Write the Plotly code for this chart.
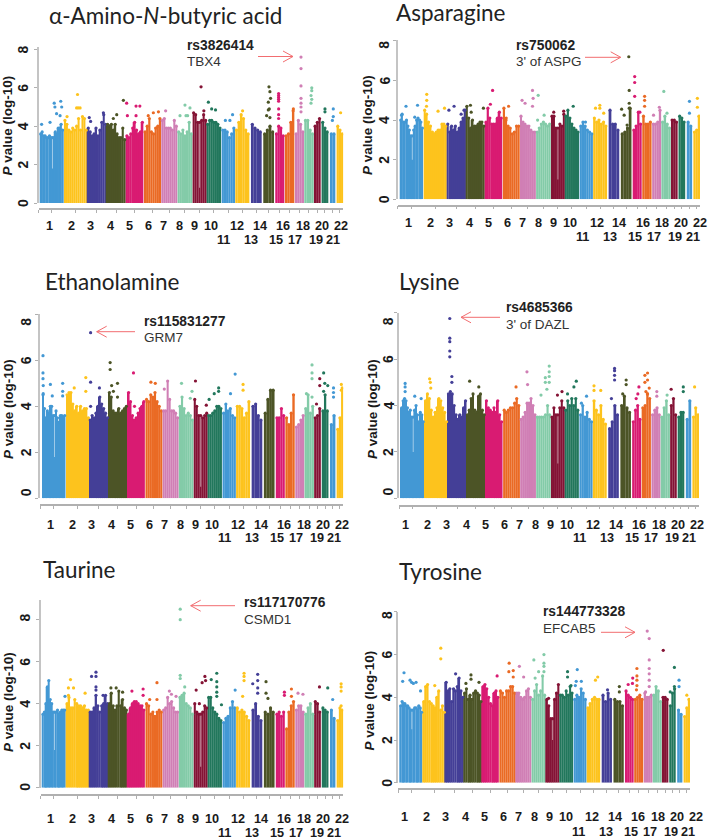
import plotly.graph_objects as go

W, H = 709, 840
chrom_start = [0,72,142,200,258,312,364,413,458,500,545,586,633,670,706,735,765,793,822,845,870,890]
chrom_end = [70,142,200,257,310,363,412,457,500,543,585,628,665,702,733,763,792,821,842,865,886,910]
chrom_colors = ["#4398d4","#fdc31d","#443f97","#4c5426","#d91b72","#ea6a24","#d07fb5","#83cba8","#841335","#22775c",
                "#4398d4","#fdc31d","#443f97","#4c5426","#d91b72","#ea6a24","#d07fb5","#83cba8","#841335","#22775c",
                "#4398d4","#fdc31d"]
row1_labels = ["1","2","3","4","5","6","7","8","9","10","12","14","16","18","20","22"]
row2_labels = ["11","13","15","17","19","21"]
label_offsets = {"1":147,"2":215,"3":272,"4":330,"5":388,"6":445,"7":490,"8":537,"9":583,"10":632,"11":670,
                 "12":712,"13":752,"14":780,"15":828,"16":850,"17":885,"18":908,"19":948,"20":965,"21":1000,"22":1022}

tops_amino = [[3.6,3.7,3.5,3.5,3.4,3.4,3.5,3.4,1.8,3.4,3.7,3.6,3.9,3.9,4.1,3.8],[4.3,4.1,3.8,3.7,3.9,3.8,4.0,4.4,3.8,4.5,4.4,3.8],
 [3.9,3.7,3.5,3.6,3.9,3.5,3.8,4.2,4.6,4.1],[4.1,4.0,4.1,3.8,4.1,3.6,3.4,3.4,3.9,3.3],[3.5,3.4,3.6,3.9,4.2,3.8,3.6,3.7,4.2],
 [3.7,4.0,4.4,3.7,3.6,3.9,4.0,4.4],[4.3,4.4,3.9,3.9,3.9,3.8,4.3,4.0],[3.7,3.6,3.8,3.5,3.7,4.2,3.6],[4.7,4.6,4.2,0.8,4.3,4.6,4.3],
 [4.1,4.3,4.3,4.2,4.2,4.1,3.9],[3.8,3.8,3.7,3.4,3.6,3.9],[3.8,4.2,4.6,4.4,3.8,3.6],[4.1,3.9,3.8,3.7],[3.6,3.8,4.0,3.7],
 [3.6,4.0,3.9,3.5],[3.5,3.6,4.2,4.8],[3.6,4.3,4.1,3.7],[4.3,4.3,3.8,3.6],[4.0,4.2,4.4],[4.2,3.9,3.7],[3.6,3.6],[4.0,3.8,3.6]]
peaks_amino = [(1,.07,4.1),(1,.43,4.2),(1,.61,5.2),(1,.64,5.0),(1,.89,5.3),(1,.93,5.0),(1,.71,4.65),(1,.86,4.55),(2,.58,5.65),(2,.54,4.95),(2,.69,4.95),(2,.61,4.95),(2,.13,4.5),
 (3,.1,4.45),(3,.17,4.25),(3,.83,4.7),(4,.53,4.6),(4,.35,4.4),(4,.88,5.35),(5,.04,5.2),(5,.08,4.55),(5,.58,5.05),(5,.8,5.05),(5,.58,4.55),
 (6,.55,4.7),(6,.85,4.75),(6,.25,4.55),(7,.27,4.8),(8,.5,5.1),(8,.16,4.55),(8,.84,4.95),(8,.68,4.55),(8,.57,4.55),(9,.6,6.05),(9,.8,4.8),
 (10,.12,5.25),(10,.35,4.9),(10,.62,4.85),(11,.82,4.6),(11,.28,4.3),(11,.62,4.3),(12,.52,4.8),(14,.53,6.05),(14,.62,5.8),(14,.68,5.45),(14,.47,4.85),(14,.56,4.9),(14,.31,4.55),(14,.62,4.45),(14,.47,5.25),
 (15,.37,5.7),(15,.37,5.6),(15,.37,5.5),(15,.37,5.4),(15,.37,5.3),(15,.37,4.9),(15,.37,4.6),(15,.37,4.4),(16,.9,4.9),
 (17,.67,7.6),(17,.67,7.0),(17,.67,6.1),(17,.67,5.45),(17,.67,5.2),(17,.67,5.0),(17,.67,4.75),(18,.8,6.0),(18,.8,5.85),(18,.72,5.6),(18,.72,5.2),(18,.8,5.4),(20,.5,4.9),(20,.5,4.75),(21,.62,4.9),(21,.62,4.5),(21,.45,4.3),(22,.6,4.7)]

tops_asparagine = [[4.0,4.3,3.9,3.9,4.0,3.7,3.5,3.2,2.0,3.5,3.7,4.0,4.1,4.0,3.9,3.6],[4.5,4.3,3.9,3.7,3.4,3.3,3.4,3.5,3.5,3.8,3.8,3.7],
 [3.8,3.4,3.7,3.5,3.7,3.4,3.6,3.9,4.1,4.5],[4.7,4.1,3.6,4.0,3.7,3.7,3.8,3.9,3.9,3.7],[3.9,4.6,4.1,3.8,3.8,3.8,4.1,4.4,4.1],
 [4.6,4.0,3.7,3.6,3.3,3.4,3.7,3.7],[4.2,3.9,3.8,3.7,3.7,3.5,3.4,3.4],[3.4,3.6,3.8,3.9,3.8,3.7,3.8],[4.2,4.2,3.6,1.0,3.8,3.7,4.3],
 [4.2,4.5,4.1,3.8,3.6,3.5,3.4],[3.7,3.9,3.7,3.5,3.4,3.3],[4.1,3.9,4.0,3.8,3.9,3.7],[4.5,3.8,3.8,3.5],[3.3,3.4,3.6,4.6],
 [3.5,3.7,4.4,3.8],[4.2,3.8,3.8,3.9],[3.8,3.8,3.9,4.5],[3.9,4.2,3.8,3.6],[4.0,4.0,3.9],[4.2,4.1,3.9],[3.9,3.7],[3.4,3.5,4.2]]
peaks_asparagine = [(1,.26,4.7),(1,.76,4.75),(1,.07,4.25),(1,.64,4.15),(2,.13,5.3),(2,.13,5.0),(2,.12,4.7),(2,.62,4.45),(2,.9,4.6),(3,.11,4.5),(3,.38,4.7),(3,.9,4.5),(3,.75,4.3),
 (4,.24,4.75),(4,.28,4.4),(4,.93,4.6),(5,.44,5.5),(5,.31,4.8),(6,.34,4.7),(6,.2,4.1),(7,.13,5.0),(7,.32,4.85),(7,.79,5.5),(7,.83,5.1),(7,.79,4.7),(8,.14,5.25),(8,.55,4.25),(8,.1,4.0),
 (9,.2,4.4),(9,.92,4.45),(10,.59,4.7),(11,.44,3.9),(12,.48,4.75),(12,.48,4.6),(12,.17,4.6),(12,.76,4.35),(14,.07,4.55),(14,.31,4.25),(14,.59,3.75),(14,.79,5.5),(14,.79,4.85),(14,.79,4.6),
 (14,.75,7.2),(15,.22,6.2),(15,.22,5.9),(15,.22,5.2),(15,.8,4.4),(16,.25,5.2),(16,.25,5.0),(16,.25,4.7),(17,.15,4.25),(17,.8,4.65),(18,.26,5.45),(18,.6,4.35),(21,.5,4.95),(21,.5,4.35),(22,.6,5.1),(22,.6,4.65)]

tops_ethanolamine = [[4.5,3.9,3.5,3.8,3.7,4.0,4.0,3.6,1.8,3.8,3.5,3.3,3.6,3.6,3.5,3.6],[4.5,4.6,4.6,4.1,3.8,4.0,3.7,4.0,3.8,3.9,3.9,3.5],
 [3.4,3.6,3.5,3.7,4.0,4.4,4.1,3.9,3.7,3.5],[4.6,4.4,3.8,3.7,3.7,3.9,3.7,3.8,3.9,4.0],[4.6,4.2,3.6,3.4,3.5,3.7,3.9,4.0,4.2],
 [4.3,4.2,4.5,4.4,4.6,4.2,4.0,3.8],[3.8,3.8,5.1,4.3,3.8,3.8,3.7,3.5],[4.0,4.4,3.9,3.6,3.7,3.6,3.4],[4.3,4.0,3.6,0.5,3.5,3.6,3.7],
 [3.6,3.6,3.7,3.8,4.0,4.0,3.9],[3.7,4.1,3.8,3.9,3.6,3.5],[4.0,4.0,3.9,3.5,3.7,4.2],[4.0,4.1,3.6,3.4],[3.7,4.3,4.7,4.7],
 [3.5,3.5,3.9,3.6],[3.5,3.2,3.7,4.5],[3.1,3.2,3.4,3.6],[3.9,4.5,3.7,4.0],[3.5,3.6,3.9],[3.8,4.5,3.8],[3.2,3.6],[3.0,3.5,4.8]]
peaks_ethanolamine = [(1,.03,6.2),(1,.03,5.45),(1,.03,5.2),(1,.04,4.9),(1,.04,4.55),(1,.35,4.95),(1,.43,4.45),(1,.88,5.0),(1,.88,4.45),(1,.88,4.65),(2,.35,4.8),(2,.85,5.25),(2,.85,4.65),
 (3,.07,7.2),(3,.07,5.05),(3,.07,4.0),(3,.53,4.8),(4,.09,5.9),(4,.09,5.6),(4,.48,5.0),(4,.17,4.9),(4,.26,4.65),(4,.48,4.4),(5,.34,5.45),(5,.4,4.0),(6,.32,5.05),(6,.58,5.0),
 (7,.1,4.75),(8,.18,5.0),(8,.9,4.65),(8,.78,4.35),(9,.12,5.1),(9,.9,4.05),(10,.1,4.3),(10,.46,4.55),(10,.77,4.8),(10,.77,4.65),(11,.6,4.55),(11,.95,5.4),(12,.5,4.95),(12,.5,4.7),
 (18,.8,5.8),(18,.8,5.45),(18,.8,5.2),(18,.2,4.55),(18,.8,4.4),(19,.84,5.2),(19,.84,4.9),(19,.35,4.1),(20,.28,5.45),(20,.9,4.9),(20,.45,5.0),(20,.28,4.65),(21,.65,4.8),(21,.65,4.4),(21,.65,4.6),(22,.7,4.95),(22,.7,4.7)]

tops_lysine = [[3.9,4.2,4.3,4.2,3.9,3.7,3.8,3.5,2.0,3.8,4.0,3.6,3.3,3.7,3.6,3.3],[4.2,4.5,4.3,3.8,3.5,3.7,3.9,4.3,4.2,3.9,3.7,3.3],
 [4.5,4.6,4.5,4.0,3.6,3.4,3.6,3.5,3.9,4.2],[3.6,3.8,4.3,4.5,3.8,3.7,4.4,4.5,3.8,3.6],[4.2,3.9,3.8,3.7,3.9,3.7,4.2,3.6,3.3],
 [3.8,3.7,3.8,3.9,3.9,4.1,4.3,4.0],[3.4,3.5,3.7,4.1,4.1,4.3,4.0,3.6],[3.5,3.5,3.5,3.5,3.6,4.0,3.6],[3.5,3.9,3.6,1.5,3.9,4.2,3.9],
 [3.8,4.2,4.0,4.3,4.0,4.3,3.8],[3.6,4.0,3.5,3.7,3.4,3.3],[4.2,3.8,3.6,4.0,3.4,3.2],[3.0,3.3,4.0,3.6],[4.0,4.4,3.9,3.7],
 [3.3,3.8,4.0,3.4],[3.9,4.0,4.5,4.3],[3.6,3.8,3.9,3.6],[3.5,3.9,4.2,3.6],[4.0,4.3,3.6],[3.5,3.7,3.7],[3.4,4.2],[3.5,3.9,3.6]]
peaks_lysine = [(1,.18,4.95),(1,.18,4.8),(1,.18,4.6),(1,.6,4.4),(1,.88,4.3),(2,.22,5.15),(2,.25,5.0),(2,.27,4.75),(3,.12,7.75),(3,.12,6.9),(3,.12,6.75),(3,.12,6.35),(3,.12,6.1),(3,.23,5.25),(3,.23,5.0),
 (4,.17,5.05),(4,.66,4.8),(6,.77,4.8),(7,.43,5.45),(7,.47,4.9),(8,.9,5.7),(8,.9,5.45),(8,.63,5.2),(8,.9,5.25),(8,.9,5.0),(8,.63,5.0),(8,.33,4.45),(8,.74,4.7),
 (9,.47,4.45),(9,.8,4.6),(10,.2,4.5),(10,.82,5.05),(10,.65,4.8),(11,.54,4.4),(11,.15,4.1),(12,.08,4.85),(12,.57,4.65),(12,.08,4.65),(13,.6,5.6),(13,.6,5.5),(13,.6,5.3),(13,.6,5.1),(13,.3,4.3),
 (14,.55,5.1),(14,.55,4.9),(14,.22,4.5),(15,.76,4.8),(15,.45,4.3),(15,.64,4.5),(16,.35,5.3),(16,.64,5.4),(16,.35,5.0),(16,.64,5.1),(16,.82,4.75),(16,.46,4.6),(16,.64,4.5),(17,.6,4.6),(17,.6,4.4),
 (18,.7,4.45),(19,.15,4.7),(20,.85,4.8),(20,.85,4.6),(22,.33,4.8)]

tops_taurine = [[3.5,3.6,4.0,4.8,5.1,4.2,4.0,3.6,1.8,3.6,3.7,3.5,3.6,3.7,3.7,3.7],[4.0,4.3,3.8,3.8,4.2,4.0,3.9,3.9,3.8,3.9,3.7,3.7],
 [3.6,3.6,3.8,4.4,3.9,3.6,3.9,4.0,4.4,4.0],[4.0,4.5,3.9,3.7,3.9,4.6,3.9,4.2,3.8,3.7],[3.5,3.8,4.0,4.1,4.1,4.0,3.9,3.9,3.7],
 [4.0,3.9,3.5,3.6,3.4,3.6,3.7,3.6],[3.7,3.8,4.3,4.0,4.1,3.8,3.6,3.6],[4.3,4.4,4.5,4.0,3.9,3.8,3.5],[4.0,3.6,3.5,1.0,3.6,3.9,3.8],
 [4.3,4.3,3.8,3.6,3.5,3.3,3.2],[3.1,3.3,3.4,3.8,4.1,3.8],[3.8,3.6,3.7,3.6,3.4,3.2],[3.7,4.0,3.4,3.2],[3.6,3.5,3.8,3.6],
 [3.5,3.6,3.4,3.6],[2.8,3.6,3.9,4.1],[3.7,3.9,3.9,3.6],[3.5,3.8,4.0,3.5],[4.1,4.0,3.6],[3.8,3.7,3.6],[3.7,3.3],[3.2,3.8,3.7]]
peaks_taurine = [(1,.98,4.35),(2,.19,5.15),(2,.1,4.75),(2,.32,4.75),(2,.1,4.4),(2,.82,4.5),(3,.12,5.3),(3,.35,5.5),(3,.35,5.3),(3,.35,4.8),(3,.35,4.65),(3,.72,4.4),
 (4,.13,4.75),(4,.41,4.75),(4,.75,4.55),(5,.25,4.6),(5,.9,4.7),(5,.9,4.4),(6,.68,5.0),(6,.25,4.2),(6,.68,4.2),(7,.42,4.6),(7,.55,4.45),(7,.84,4.35),
 (8,.09,8.5),(8,.09,8.0),(8,.09,5.35),(8,.09,5.2),(8,.4,4.8),(9,.17,4.65),(9,.6,5.0),(9,.8,5.3),(9,.85,5.1),(9,.4,4.0),
 (10,.25,5.15),(10,.64,5.45),(10,.64,5.05),(10,.64,4.8),(10,.64,4.55),(10,.64,4.35),(10,.97,3.95),(11,.95,4.65),(12,.57,5.45),(12,.57,5.3),(12,.57,5.1),(12,.47,4.35),
 (13,.57,5.4),(13,.57,5.1),(13,.1,4.95),(13,.57,4.75),(13,.57,4.5),(14,.2,5.05),(14,.2,4.5),(14,.38,4.25),(15,.96,4.55),(15,.96,4.4),(16,.65,4.7),(16,.65,4.35),
 (17,.3,4.5),(17,.85,4.45),(19,.8,4.8),(20,.9,4.75),(21,.5,4.2),(22,.67,4.95),(22,.67,4.8),(22,.67,4.6),(22,.67,3.9)]

tops_tyrosine = [[3.6,3.8,3.7,3.7,3.6,3.6,3.5,3.4,2.5,3.4,3.5,3.5,3.4,3.6,3.5,3.3],[3.8,4.5,4.6,3.8,3.7,3.6,3.5,4.0,4.3,3.4,3.6,3.3],
 [4.7,4.3,4.4,3.8,4.4,4.3,4.5,4.9,4.3,4.0],[4.2,4.4,3.9,4.1,3.9,4.2,4.3,4.2,4.1,3.8],[4.5,4.6,4.4,4.0,3.7,3.6,4.2,4.3,4.0],
 [4.3,4.2,4.0,4.3,4.3,4.5,4.5,4.2],[4.2,4.2,4.0,3.9,4.0,4.3,4.4,4.0],[3.9,4.3,4.6,4.1,4.3,5.0,4.1],[3.9,3.6,3.0,2.0,3.9,4.2,4.6],
 [4.1,4.1,4.0,4.3,4.1,4.5,4.2],[3.9,4.1,4.0,4.4,4.2,3.9],[3.5,3.7,3.9,4.0,3.9,3.9],[4.1,3.8,4.2,3.9],[3.9,3.8,3.8,3.6],
 [4.3,4.1,4.0,3.9],[3.9,4.0,4.1,3.9],[4.2,4.0,4.0,4.1],[4.1,4.5,4.3,3.8],[4.0,4.0,3.9],[3.6,4.2,4.4],[3.4,3.2],[3.1,3.5,3.9]]
peaks_tyrosine = [(1,.18,5.15),(1,.12,4.75),(1,.45,4.8),(1,.52,4.7),(1,.72,4.7),(1,.6,4.65),(1,.92,4.3),(2,.8,6.3),(2,.8,5.8),(2,.53,4.55),(3,.56,5.1),(4,.4,5.05),(4,.4,4.85),(4,.12,4.65),(4,.84,4.7),
 (5,.9,5.0),(6,.6,5.6),(6,.85,5.25),(6,.85,4.95),(6,.58,5.2),(7,.22,5.45),(7,.5,4.95),(8,.16,5.75),(8,.88,6.0),(8,.88,5.6),(8,.88,5.45),(8,.5,5.2),(8,.25,4.9),(8,.88,5.2),(9,.2,3.95),
 (10,.6,5.2),(10,.6,4.95),(10,.85,4.55),(11,.28,5.3),(11,.2,4.75),(11,.6,4.75),(11,.13,4.55),(12,.65,4.8),(12,.82,4.95),(13,.57,4.35),(14,.57,4.5),(14,.57,4.25),
 (15,.9,4.9),(15,.37,4.6),(15,.87,4.65),(16,.3,5.35),(16,.3,5.0),(16,.3,4.8),(16,.3,4.55),(16,.25,4.35),(17,.4,7.1),(17,.63,6.75),(17,.63,5.75),(17,.63,5.35),(17,.63,5.1),(17,.63,4.8),(17,.63,4.5),(17,.2,4.25),
 (19,.2,6.2),(20,.8,5.4),(20,.8,4.5),(20,.15,4.25),(21,.35,4.8),(21,.35,4.5),(22,.5,4.1)]

panels = [
 dict(title="α-Amino-<i>N</i>-butyric acid", tops=tops_amino, peaks=peaks_amino, rs="rs3826414", gene="TBX4",
      yax=38.7, left=40, right=343.3, xline=209, y0=203, unit=19.2, ymax=8.1, ylx=23, ttl=(47,15), ytl=(8,125.6),
      lab=dict(x=0, r1=226, r2=240), rsxy=(185,45.7,62), arrow=(258,293,56.5), zero=0, eight=8),
 dict(title="Asparagine", tops=tops_asparagine, peaks=peaks_asparagine, rs="rs750062", gene="3' of ASPG",
      yax=397.7, left=400, right=700, xline=205.7, y0=199.3, unit=19.8, ymax=8.05, ylx=384, ttl=(394,13), ytl=(367,125),
      lab=dict(x=359.3, r1=223.3, r2=237.3), rsxy=(514.3,45,61.7), arrow=(585,620.7,57.3), zero=0, eight=7.8),
 dict(title="Ethanolamine", tops=tops_ethanolamine, peaks=peaks_ethanolamine, rs="rs115831277", gene="GRM7",
      yax=40, left=42.3, right=343.3, xline=505, y0=498.3, unit=23, ymax=8, ylx=26, ttl=(42.7,282), ytl=(8,409),
      lab=dict(x=1, r1=525, r2=538.3), rsxy=(141.7,321.3,337.7), arrow=(135,96.7,331.7), zero=.26, eight=7.68),
 dict(title="Lysine", tops=tops_lysine, peaks=peaks_lysine, rs="rs4685366", gene="3' of DAZL",
      yax=399, left=401, right=699, xline=505.7, y0=498.3, unit=23.2, ymax=8, ylx=388, ttl=(396.7,282), ytl=(372,409),
      lab=dict(x=356, r1=525, r2=538.3), rsxy=(504,307.3,324.3), arrow=(500,461,317.3), zero=.29, eight=7.63),
 dict(title="Taurine", tops=tops_taurine, peaks=peaks_taurine, rs="rs117170776", gene="CSMD1",
      yax=40.7, left=42.3, right=343.3, xline=795, y0=787.7, unit=21, ymax=8.95, ylx=25, ttl=(41,569), ytl=(8,702),
      lab=dict(x=1, r1=819.3, r2=833.3), rsxy=(241.7,602.3,619), arrow=(235,190.7,605.7), zero=.05, eight=8.1),
 dict(title="Tyrosine", tops=tops_tyrosine, peaks=peaks_tyrosine, rs="rs144773328", gene="EFCAB5",
      yax=398.3, left=400, right=690, xline=789.3, y0=782.7, unit=21.35, ymax=8, ylx=387, ttl=(397,571), ytl=(370,700.6),
      lab=dict(x=355, r1=817.3, r2=831.7), rsxy=(541,611.7,628.3), arrow=(601,635,632.3), zero=0, eight=7.85),
]

fig = go.Figure()
annotations, shapes = [], []
px = lambda v: v / W
py = lambda v: 1 - v / H
AX = "#b0b0b0"
ARIAL = "Liberation Sans"

def note(x, y, text, size, color="#1a1a1a", angle=0, anchor="center", family=ARIAL):
    annotations.append(dict(x=px(x), y=py(y), xref="paper", yref="paper", text=text, showarrow=False, textangle=angle,
                            xanchor=anchor, yanchor="middle", font=dict(size=size, color=color, family=family)))

layout_axes = {}
for i, p in enumerate(panels):
    n = "" if i == 0 else str(i + 1)
    bx, by, bw, bc = [], [], [], []
    nx, nb, nh = [], [], []
    for c, heights in enumerate(p["tops"]):
        w = (chrom_end[c] - chrom_start[c]) / len(heights)
        for k, h in enumerate(heights):
            xc = chrom_start[c] + (k + .5) * w
            shown = h
            if h < 2.6:  # centromere notch: a hairline pale gap rather than a full low bin
                shown = heights[k - 1]
                nx.append(xc); nb.append(h); nh.append(shown + .25 - h)
            bx.append(xc); by.append(shown); bw.append(w * 1.03); bc.append(chrom_colors[c])
    fig.add_trace(go.Bar(x=bx, y=by, width=bw, marker=dict(color=bc, line=dict(width=0)),
                         xaxis="x" + n, yaxis="y" + n, hoverinfo="skip"))
    pk = p["peaks"]
    fig.add_trace(go.Scatter(x=bx + [chrom_start[c-1] + f * (chrom_end[c-1] - chrom_start[c-1]) for c, f, v in pk],
                             y=by + [v for c, f, v in pk], mode="markers",
                             marker=dict(size=3.2, color=bc + [chrom_colors[c-1] for c, f, v in pk], line=dict(width=0)),
                             xaxis="x" + n, yaxis="y" + n, hoverinfo="skip"))
    fig.add_trace(go.Bar(x=nx, y=nh, base=nb, width=[2.5] * len(nx), marker=dict(color="rgba(255,255,255,0.6)", line=dict(width=0)),
                         xaxis="x" + n, yaxis="y" + n, hoverinfo="skip"))
    s = (p["right"] - p["left"]) / 910
    r0 = (p["yax"] - p["left"]) / s
    centers = [(a + b) / 2 for a, b in zip(chrom_start, chrom_end)]
    layout_axes["xaxis" + n] = dict(domain=[px(p["yax"]), px(p["right"])], range=[r0, 910], anchor="free", position=py(p["xline"]),
                                    tickvals=[r0] + centers, ticks="outside", ticklen=3, tickwidth=1, tickcolor=AX,
                                    showticklabels=False, showgrid=False, zeroline=False, showline=True, linecolor=AX, linewidth=1.5)
    layout_axes["yaxis" + n] = dict(domain=[py(p["y0"]), py(p["y0"] - p["ymax"] * p["unit"])], range=[0, p["ymax"]], anchor="x" + n,
                                    tickvals=[0,2,4,6,8], ticks="outside", ticklen=3, tickwidth=1, tickcolor=AX,
                                    showticklabels=False, showgrid=False, zeroline=False, showline=True, linecolor="#c4c4c4", linewidth=1.5)
    # pasted text
    note(p["ttl"][0], p["ttl"][1], p["title"], 22.5, "#222222", anchor="left", family="Lato")
    note(p["ytl"][0], p["ytl"][1], "<b><i>P</i> value (log-10)</b>", 13.5, angle=-90)
    for v in [0, 2, 4, 6, 8]:
        pos = {0: p["zero"], 8: p["eight"]}.get(v, v)
        note(p["ylx"], p["y0"] - pos * p["unit"], f"<b>{v}</b>", 14, angle=-90)
    for lab in row1_labels:
        note(p["lab"]["x"] + label_offsets[lab] / 3, p["lab"]["r1"], f"<b>{lab}</b>", 12.7)
    for lab in row2_labels:
        note(p["lab"]["x"] + label_offsets[lab] / 3, p["lab"]["r2"], f"<b>{lab}</b>", 12.7)
    note(p["rsxy"][0], p["rsxy"][1], f"<b>{p['rs']}</b>", 13.8, "#222222", anchor="left")
    note(p["rsxy"][0], p["rsxy"][2], p["gene"], 13.5, "#333333", anchor="left")
    x0, x1, y = p["arrow"]
    d = 1 if x1 > x0 else -1
    X0, X1, Y = px(x0), px(x1), py(y)
    hx, hy = px(x1 - d * 10), 5.5 / H
    shapes.append(dict(type="path", xref="paper", yref="paper",
                       path=f"M {X0} {Y} L {X1} {Y} M {hx} {Y + hy} L {X1} {Y} L {hx} {Y - hy}",
                       line=dict(color="#f26d70", width=1)))

fig.update_layout(width=W, height=H, autosize=False, margin=dict(l=0, r=0, t=0, b=0), paper_bgcolor="white",
                  plot_bgcolor="white", showlegend=False, barmode="overlay", hovermode=False,
                  annotations=annotations, shapes=shapes, **layout_axes)
fig.write_html("out.html", post_script="document.body.style.margin='0';", config=dict(displayModeBar=False))
